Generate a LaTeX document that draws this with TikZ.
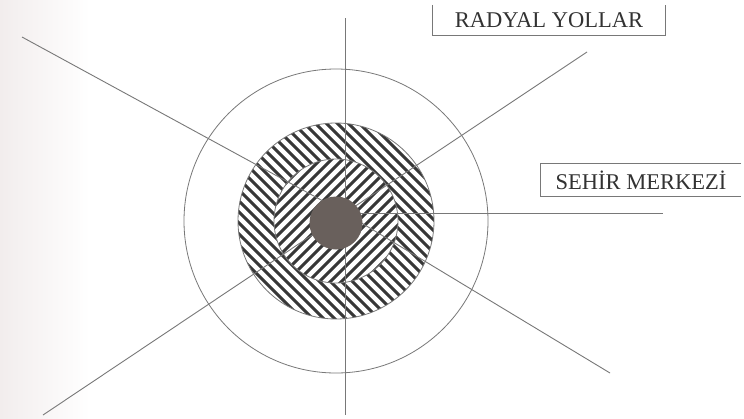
\documentclass[tikz,border=0pt]{standalone}
\usepackage{fontspec}
\setmainfont{Liberation Serif}
\definecolor{linegray}{RGB}{120,120,120}
\definecolor{hatchgray}{RGB}{55,55,55}
\definecolor{coregray}{RGB}{105,96,92}
\definecolor{textgray}{RGB}{50,50,50}
\definecolor{scantint}{RGB}{242,237,237}
\begin{document}
\begin{tikzpicture}[x=1pt,y=-1pt,
  road/.style={draw=linegray, line width=0.9pt},
  ring/.style={circle, draw=linegray, line width=0.8pt, inner sep=0pt},
  hatch/.style={draw=hatchgray, line width=3pt},
  lbl/.style={font=\fontsize{22.5}{24}\selectfont, text=textgray, inner sep=0pt}]
\useasboundingbox (0,0) rectangle (744,418);
\fill[white] (0,0) rectangle (744,418);
\shade[left color=scantint, right color=white] (0,0) rectangle (90,418);

% outer plain circle
\node[ring, minimum size=304pt] (outer) at (336,221) {};

% outer hatched ring ("\" stripes)
\begin{scope}
  \clip (336,221) circle (98);
  \foreach \k in {-330,-319,...,330}
    \draw[hatch] ({336+\k-130},{221-130}) -- ({336+\k+130},{221+130});
\end{scope}
% inner hatched ring ("/" stripes)
\fill[white] (336,221) circle (62);
\begin{scope}
  \clip (336,221) circle (62);
  \foreach \k in {-209,-198,...,209}
    \draw[hatch] ({336+\k-90},{221+90}) -- ({336+\k+90},{221-90});
\end{scope}
\node[ring, minimum size=196pt] (ringout) at (336,221) {};
\node[ring, minimum size=124pt] (ringin) at (336,221) {};

% roads
\coordinate (hub) at (345,213);
\coordinate (n) at (345,18);
\coordinate (s) at (345,415);
\coordinate (e) at (663,213);
\coordinate (nw) at (22,37);
\coordinate (ne) at (587,52);
\coordinate (se) at (610,373);
\coordinate (sw) at (43,415);
\draw[road] (n) -- (s);
\draw[road] (hub) -- (e);
\draw[road] (hub) -- (nw);
\draw[road] (hub) -- (ne);
\draw[road] (hub) -- (se);
\draw[road] (hub) -- (sw);

% city centre
\node[circle, fill=coregray, minimum size=53pt, inner sep=0pt] (core) at (336,223) {};

% labels
\node[lbl, minimum width=232pt, minimum height=30pt] (radyal) at (549,20) {RADYAL YOLLAR};
\draw[road] (radyal.north west) -- (radyal.south west) -- (radyal.south east) -- (radyal.north east);
\node[lbl, minimum width=200pt, minimum height=32pt] (sehir) at (641,180) {SEHİR MERKEZİ};
\draw[road] (sehir.north east) -- (sehir.north west) -- (sehir.south west) -- (sehir.south east);
\end{tikzpicture}
\end{document}
